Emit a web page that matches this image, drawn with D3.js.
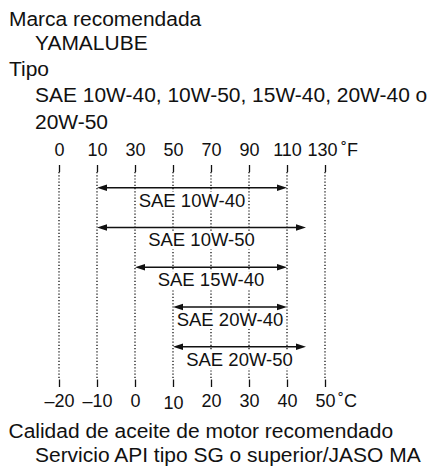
<!DOCTYPE html>
<html>
<head>
<meta charset="utf-8">
<script src="https://cdn.jsdelivr.net/npm/d3@7"></script>
<style>
  html, body { margin: 0; padding: 0; background: #fff; }
  svg { display: block; font-family: "Liberation Sans", Arial, Helvetica, sans-serif; }
</style>
</head>
<body>
<svg id="chart" width="435" height="467"></svg>
<script>
// ---- data ----
const headerLines = ["Marca recomendada", "YAMALUBE", "Tipo", "SAE 10W-40, 10W-50, 15W-40, 20W-40 o", "20W-50"];
const headerIndent = [0, 1, 0, 1, 1];
const footerLines = ["Calidad de aceite de motor recomendado", "Servicio API tipo SG o superior/JASO MA"];
const footerIndent = [0, 1];
const grades = ["SAE 10W-40", "SAE 10W-50", "SAE 15W-40", "SAE 20W-40", "SAE 20W-50"];
const minC = [-10, -10, 0, 10, 10];
const maxC = [40, 45, 40, 40, 45];
const celsiusTicks = [-20, -10, 0, 10, 20, 30, 40, 50];
const fahrenheitTicks = ["0", "10", "30", "50", "70", "90", "110", "130"];

// ---- layout ----
const svg = d3.select("#chart");
const ink = "#111";
const stretch = 1.075;

function stretchText(sel) {
  sel.each(function () {
    const L = this.getComputedTextLength();
    d3.select(this).attr("textLength", L * stretch).attr("lengthAdjust", "spacingAndGlyphs");
  });
}

// header text
svg.append("g").selectAll("text").data(headerLines).join("text")
  .attr("x", (d, i) => 9 + headerIndent[i] * 26)
  .attr("y", (d, i) => [25.5, 50, 76, 102, 128.5][i])
  .attr("font-size", 19.5).attr("fill", ink)
  .text(d => d)
  .call(stretchText);

svg.append("g").selectAll("text").data(footerLines).join("text")
  .attr("x", (d, i) => 8.5 + footerIndent[i] * 26.5)
  .attr("y", (d, i) => [438, 461.5][i])
  .attr("font-size", 19.5).attr("fill", ink)
  .text(d => d)
  .call(stretchText);

// scales
const x = d3.scaleLinear().domain([-20, 50]).range([59, 325]);
const y = d3.scalePoint().domain(grades).range([187.7, 346.7]);

const gridTop = 172, gridBottom = 379.5;

// dotted gridlines
svg.append("g").selectAll("line").data(celsiusTicks).join("line")
  .attr("x1", d => x(d)).attr("x2", d => x(d))
  .attr("y1", gridTop).attr("y2", gridBottom)
  .attr("stroke", ink).attr("stroke-width", 1.3)
  .attr("stroke-dasharray", "1.2,2");

// top axis (Fahrenheit)
const topAxis = svg.append("g").attr("transform", `translate(0,${gridTop})`)
  .call(d3.axisTop(x).tickValues(celsiusTicks)
    .tickFormat((d, i) => fahrenheitTicks[i]).tickSize(7).tickPadding(9));
topAxis.select(".domain").remove();
topAxis.selectAll(".tick line").attr("stroke", ink).attr("stroke-width", 1.3);
topAxis.selectAll(".tick text").attr("fill", ink).attr("font-size", 18)
  .attr("font-family", "Liberation Sans, Arial, sans-serif").attr("dy", "0");
topAxis.selectAll(".tick").filter(d => d === 50).select("text").attr("dx", -3);
svg.append("text").attr("x", x(50) + 16).attr("y", gridTop - 16)
  .attr("font-size", 18).attr("fill", ink).text("˚F");

// bottom axis (Celsius)
const botAxis = svg.append("g").attr("transform", `translate(0,${gridBottom})`)
  .call(d3.axisBottom(x).tickValues(celsiusTicks)
    .tickFormat(d => (d < 0 ? "–" + Math.abs(d) : String(d))).tickSize(7.5).tickPadding(6));
botAxis.select(".domain").remove();
botAxis.selectAll(".tick line").attr("stroke", ink).attr("stroke-width", 1.3);
botAxis.selectAll(".tick text").attr("fill", ink).attr("font-size", 18)
  .attr("font-family", "Liberation Sans, Arial, sans-serif")
  .attr("y", 27.2).attr("dy", "0");
botAxis.selectAll(".tick").filter(d => d === 10).select("text").attr("y", 29);
svg.append("text").attr("x", x(50) + 13).attr("y", gridBottom + 27.2)
  .attr("font-size", 18).attr("fill", ink).text("˚C");

// grade ranges
const rows = grades.map((g, i) => ({ g, lo: minC[i], hi: maxC[i] }));
const rg = svg.append("g").selectAll("g").data(rows).join("g");

// labels with white background
const labels = rg.append("text")
  .attr("x", d => (x(d.lo) + x(d.hi)) / 2)
  .attr("y", d => y(d.g) + 19)
  .attr("text-anchor", "middle").attr("font-size", 18.5).attr("fill", ink)
  .text(d => d.g);
labels.each(function () {
  const b = this.getBBox();
  d3.select(this.parentNode).insert("rect", "text")
    .attr("x", b.x + 1.5).attr("y", b.y + 2).attr("width", b.width - 3).attr("height", b.height - 3)
    .attr("fill", "#fff");
});

const ah = 10, aw = 3.3;
rg.append("line")
  .attr("x1", d => x(d.lo) + 4).attr("x2", d => x(d.hi) - 4)
  .attr("y1", d => y(d.g)).attr("y2", d => y(d.g))
  .attr("stroke", ink).attr("stroke-width", 1.5);
rg.append("path")
  .attr("d", d => {
    const yy = y(d.g), a = x(d.lo), b = x(d.hi);
    return `M${a},${yy}L${a + ah},${yy - aw}L${a + ah},${yy + aw}Z` +
           `M${b},${yy}L${b - ah},${yy - aw}L${b - ah},${yy + aw}Z`;
  })
  .attr("fill", ink);
</script>
</body>
</html>
